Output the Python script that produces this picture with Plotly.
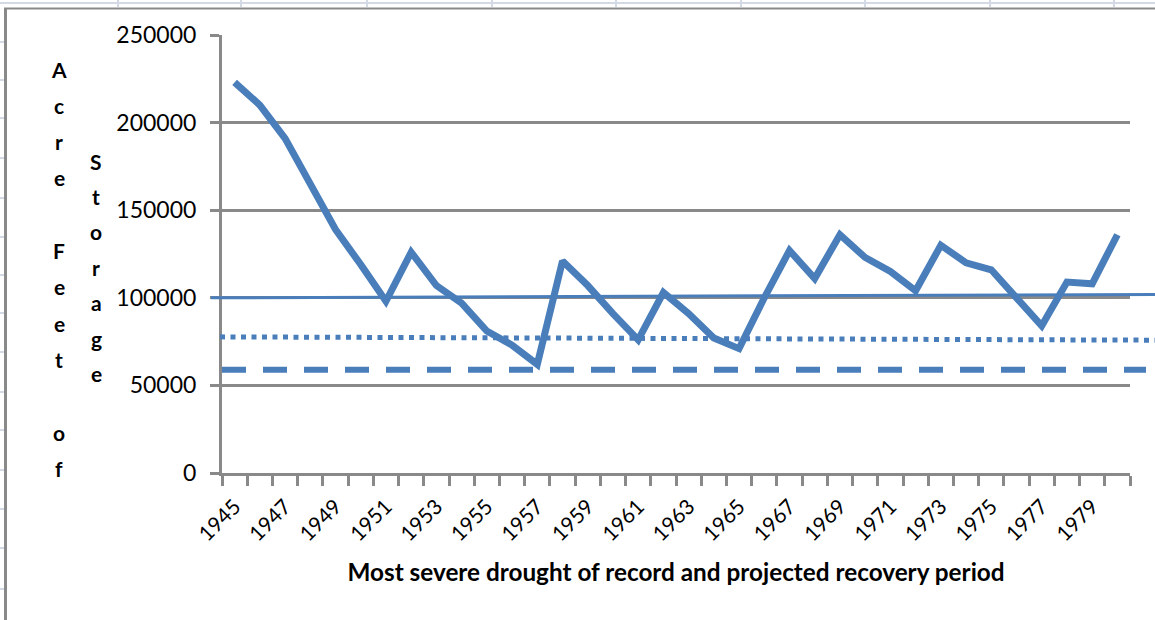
import plotly.graph_objects as go

# Reservoir storage (acre-feet) through the drought of record and recovery
years = list(range(1945, 1981))
storage = [223000, 210000, 191000, 164000, 139000, 119000, 98000,
           126000, 107000, 97000, 81000, 73000, 62000,
           121000, 107000, 91000, 76000,
           103000, 91000, 77000, 71000,
           100000, 127000, 111000, 136000, 123000, 115000, 104000,
           130000, 120000, 116000, 100000, 84000,
           109000, 108000, 136000]

label_years = list(range(1945, 1981, 2))

# Reference levels (start value, end value)
level_solid = [100000, 101900]
level_dotted = [77700, 75800]
level_dashed = [59000, 59000]

y_ticks = [0, 50000, 100000, 150000, 200000, 250000]

BLUE = "#4a7ebb"
GRAY = "#898989"
SHEET = "#d3dae6"
FONT = "Lato"

W, H = 1155, 620
L, R, T, B = 222, 25, 35, 147


def px_x(p):
    return (p - L) / (W - L - R)


def px_y(p):
    return (H - B - p) / (H - T - B)


fig = go.Figure()
fig.add_trace(go.Scatter(
    x=years, y=storage, mode="lines",
    line=dict(color=BLUE, width=7),
    showlegend=False, hoverinfo="x+y",
))

shapes = []
# reference levels drawn across the chart
shapes.append(dict(type="line", xref="paper", yref="y",
                   x0=px_x(211), x1=px_x(1160),
                   y0=level_solid[0], y1=level_solid[1],
                   line=dict(color=BLUE, width=3), layer="above"))
shapes.append(dict(type="line", xref="paper", yref="y",
                   x0=px_x(220), x1=px_x(1160),
                   y0=level_dotted[0], y1=level_dotted[1],
                   line=dict(color=BLUE, width=5, dash="5px,5.5px"), layer="above"))
shapes.append(dict(type="line", xref="paper", yref="y",
                   x0=px_x(222), x1=px_x(1146),
                   y0=level_dashed[0], y1=level_dashed[1],
                   line=dict(color=BLUE, width=6, dash="24px,17px"), layer="above"))

# worksheet cell lines around the chart object
shapes.append(dict(type="line", xref="paper", yref="paper",
                   x0=px_x(0), x1=px_x(W), y0=px_y(3), y1=px_y(3),
                   line=dict(color=SHEET, width=2)))
for cx in [118, 241, 367, 492, 616, 741, 865, 990, 1114]:
    shapes.append(dict(type="line", xref="paper", yref="paper",
                       x0=px_x(cx), x1=px_x(cx), y0=px_y(0), y1=px_y(7),
                       line=dict(color=SHEET, width=2)))
for ry in [42, 80, 118, 158, 198, 237, 275, 313, 352, 392, 430, 470, 509, 548, 589]:
    shapes.append(dict(type="line", xref="paper", yref="paper",
                       x0=px_x(0), x1=px_x(4), y0=px_y(ry), y1=px_y(ry),
                       line=dict(color=SHEET, width=2)))
# chart border
shapes.append(dict(type="line", xref="paper", yref="paper",
                   x0=px_x(4), x1=px_x(W), y0=px_y(8.5), y1=px_y(8.5),
                   line=dict(color=GRAY, width=2)))
shapes.append(dict(type="line", xref="paper", yref="paper",
                   x0=px_x(5.5), x1=px_x(5.5), y0=px_y(8), y1=px_y(H),
                   line=dict(color=GRAY, width=3)))

# stacked vertical axis title, one glyph per line
annotations = []
col1 = "Acre Feet of"
col2 = "Storage"
title_font = dict(family=FONT, size=21, color="black", weight="bold")
for i, ch in enumerate(col1):
    if ch == " ":
        continue
    annotations.append(dict(text=ch, xref="paper", yref="paper",
                            x=px_x(59), y=px_y(69 + 36.3 * i),
                            xanchor="center", yanchor="middle", showarrow=False,
                            font=title_font))
for i, ch in enumerate(col2):
    annotations.append(dict(text=ch, xref="paper", yref="paper",
                            x=px_x(96), y=px_y(161 + 35.4 * i),
                            xanchor="center", yanchor="middle", showarrow=False,
                            font=title_font))

fig.update_layout(
    width=W, height=H,
    margin=dict(l=L, r=R, t=T, b=B, pad=0),
    paper_bgcolor="white", plot_bgcolor="white",
    shapes=shapes, annotations=annotations,
    font=dict(family=FONT, color="black"),
    xaxis=dict(
        range=[1944.5, 1980.5], tickmode="array",
        tickvals=label_years, ticktext=[str(y) for y in label_years],
        tickangle=-45, ticks="outside", ticklen=10, tickwidth=3,
        tickcolor="rgba(0,0,0,0)",
        tickfont=dict(family=FONT, size=21, color="black"),
        showgrid=False, zeroline=False,
        showline=True, linecolor=GRAY, linewidth=3,
        minor=dict(ticks="outside", ticklen=10, tickwidth=3, tickcolor=GRAY,
                   tick0=1944.5, dtick=1, showgrid=False),
        title=dict(text="<b>Most severe drought of record and projected recovery period</b>",
                   font=dict(family=FONT, size=24.3, color="black"), standoff=20),
    ),
    yaxis=dict(
        range=[0, 250000], tickmode="array", tickvals=y_ticks,
        ticktext=[str(v) for v in y_ticks],
        ticks="outside", ticklen=9, tickwidth=3, tickcolor=GRAY,
        ticklabelstandoff=9,
        tickfont=dict(family=FONT, size=23, color="black"),
        showgrid=True, gridcolor=GRAY, gridwidth=3,
        zeroline=False, showline=True, linecolor=GRAY, linewidth=3,
    ),
)

fig.write_html("out.html")
